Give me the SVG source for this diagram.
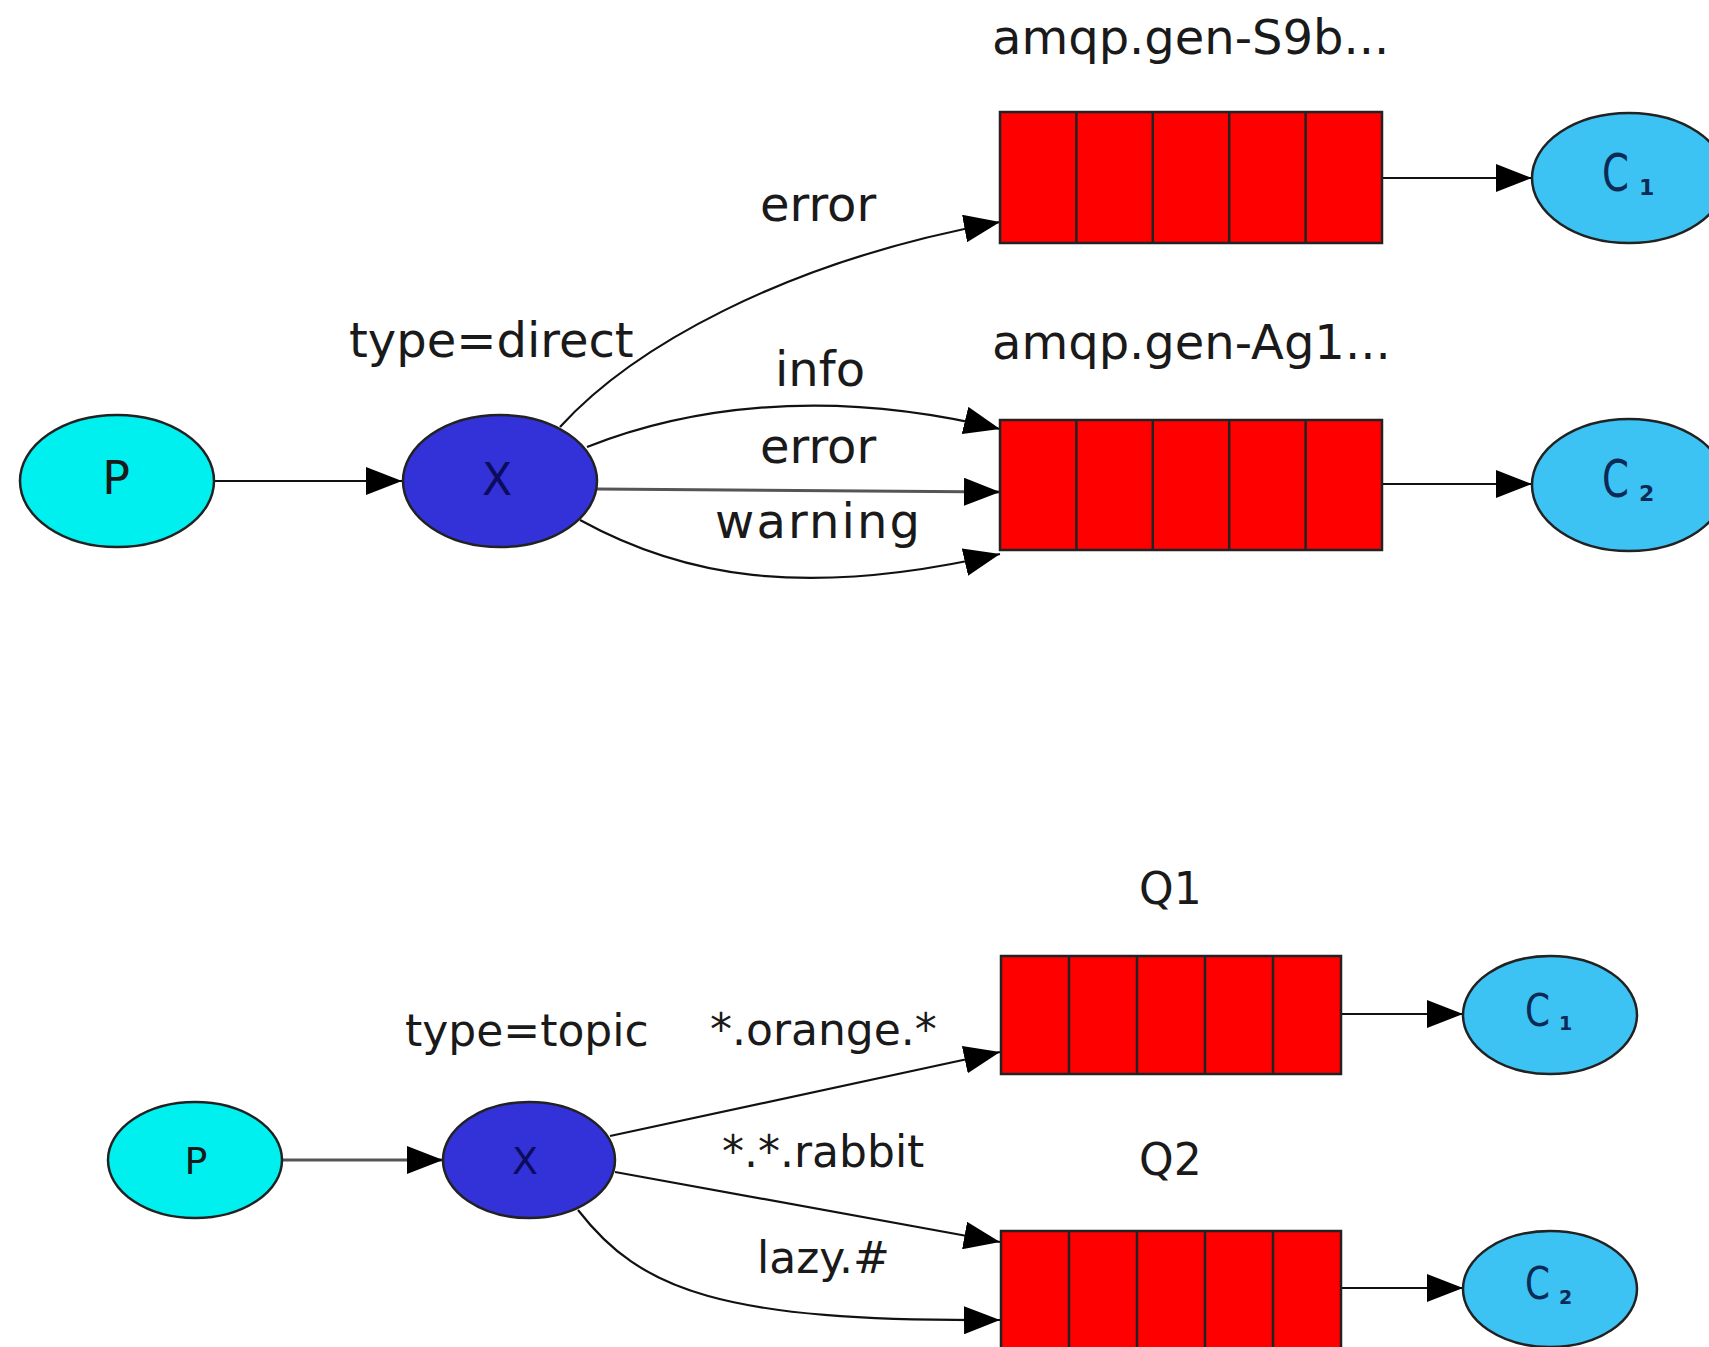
<svg xmlns="http://www.w3.org/2000/svg" width="1709" height="1347" viewBox="0 0 1709 1347">
<style>
  text { font-family: "DejaVu Sans", "Liberation Sans", sans-serif; fill: #1a1a1a; }
  .big { font-size: 48px; }
  .small { font-size: 44px; }
  .prod { fill: #00f0f0; stroke: #222; stroke-width: 2.5; }
  .exch { fill: #3232d8; stroke: #222; stroke-width: 2.5; }
  .cons { fill: #3dc3f3; stroke: #222; stroke-width: 2.5; }
  .q { fill: #f00; stroke: #222; stroke-width: 2.5; }
  .qd { stroke: #222; stroke-width: 2.5; }
  .e { fill: none; stroke: #111; stroke-width: 2.2; marker-end: url(#arr); }
  .e.soft { stroke: #555; stroke-width: 3.2; }
  .nt { text-anchor: middle; }
  .xt { fill: #0c0c5c; }
  .ct { fill: #0b2a55; }
  .sub { font-weight: bold; }
</style>
<defs>
  <marker id="arr" markerUnits="userSpaceOnUse" markerWidth="36" markerHeight="28" refX="36" refY="14" orient="auto" viewBox="0 0 36 28">
    <path d="M0,0 L36,14 L0,28 z" fill="#000"/>
  </marker>
</defs>
<rect width="1709" height="1347" fill="#fff"/>

<!-- connectors -->
<g id="connectors">
  <!-- direct exchange -->
  <path class="e" d="M215 481 L402 481"/>
  <path class="e" d="M560 427 C630 350 780 262 1000 222"/>
  <path class="e" d="M587 447 C680 410 820 385 1000 429"/>
  <path class="e soft" d="M597 489 C700 490 850 491 1000 492"/>
  <path class="e" d="M580 520 C680 575 800 600 1000 554"/>
  <path class="e" d="M1382 178 L1532 178"/>
  <path class="e" d="M1382 484 L1532 484"/>
  <!-- topic exchange -->
  <path class="e soft" d="M282 1160 L443 1160"/>
  <path class="e" d="M610 1136 L1000 1052"/>
  <path class="e" d="M615 1172 L1000 1242"/>
  <path class="e" d="M578 1210 C640 1290 720 1322 1000 1320"/>
  <path class="e" d="M1341 1014 L1463 1014"/>
  <path class="e" d="M1341 1288 L1463 1288"/>

  <text class="big" x="760" y="221">error</text>
  <text class="big" x="775" y="386">info</text>
  <text class="big" x="760" y="463">error</text>
  <text class="big" x="715" y="538" textLength="205" lengthAdjust="spacing">warning</text>
  <text class="small" x="710" y="1045">*.orange.*</text>
  <text class="small" x="722" y="1167">*.*.rabbit</text>
  <text class="small" x="757" y="1273">lazy.#</text>
</g>

<!-- direct exchange scenario -->
<g id="producer-direct">
  <ellipse class="prod" cx="117" cy="481" rx="97" ry="66"/>
  <text class="nt" x="116" y="494" font-size="46">P</text>
</g>
<g id="exchange-direct">
  <ellipse class="exch" cx="500" cy="481" rx="97" ry="66"/>
  <text class="nt xt" x="497" y="495" font-size="44">X</text>
  <text class="big" x="349" y="357">type=direct</text>
</g>
<g id="queue-s9b">
  <rect class="q" x="1000" y="112" width="382" height="131"/>
  <path class="qd" d="M1076.4 112 V243 M1152.8 112 V243 M1229.2 112 V243 M1305.6 112 V243"/>
  <text class="big" x="992" y="54">amqp.gen-S9b...</text>
</g>
<g id="queue-ag1">
  <rect class="q" x="1000" y="420" width="382" height="130"/>
  <path class="qd" d="M1076.4 420 V550 M1152.8 420 V550 M1229.2 420 V550 M1305.6 420 V550"/>
  <text class="big" x="992" y="359">amqp.gen-Ag1...</text>
</g>
<g id="consumer-c1-direct">
  <ellipse class="cons" cx="1629" cy="178" rx="97" ry="65"/>
  <text class="ct" y="191" font-size="52"><tspan x="1602" textLength="27" lengthAdjust="spacingAndGlyphs">C</tspan><tspan class="sub" x="1639" y="195" font-size="22">1</tspan></text>
</g>
<g id="consumer-c2-direct">
  <ellipse class="cons" cx="1629" cy="485" rx="97" ry="66"/>
  <text class="ct" y="497" font-size="52"><tspan x="1602" textLength="27" lengthAdjust="spacingAndGlyphs">C</tspan><tspan class="sub" x="1639" y="501" font-size="22">2</tspan></text>
</g>

<!-- topic exchange scenario -->
<g id="producer-topic">
  <ellipse class="prod" cx="195" cy="1160" rx="87" ry="58"/>
  <text class="nt" x="196" y="1174" font-size="38">P</text>
</g>
<g id="exchange-topic">
  <ellipse class="exch" cx="529" cy="1160" rx="86" ry="58"/>
  <text class="nt xt" x="525" y="1174" font-size="38">X</text>
  <text class="small" x="405" y="1046">type=topic</text>
</g>
<g id="queue-q1">
  <rect class="q" x="1001" y="956" width="340" height="118"/>
  <path class="qd" d="M1069 956 V1074 M1137 956 V1074 M1205 956 V1074 M1273 956 V1074"/>
  <text class="small" x="1139" y="904">Q1</text>
</g>
<g id="queue-q2">
  <rect class="q" x="1001" y="1231" width="340" height="118"/>
  <path class="qd" d="M1069 1231 V1349 M1137 1231 V1349 M1205 1231 V1349 M1273 1231 V1349"/>
  <text class="small" x="1139" y="1175">Q2</text>
</g>
<g id="consumer-c1-topic">
  <ellipse class="cons" cx="1550" cy="1015" rx="87" ry="59"/>
  <text class="ct" y="1026" font-size="44"><tspan x="1525" textLength="25" lengthAdjust="spacingAndGlyphs">C</tspan><tspan class="sub" x="1559" y="1030" font-size="19">1</tspan></text>
</g>
<g id="consumer-c2-topic">
  <ellipse class="cons" cx="1550" cy="1289" rx="87" ry="58"/>
  <text class="ct" y="1299" font-size="44"><tspan x="1525" textLength="25" lengthAdjust="spacingAndGlyphs">C</tspan><tspan class="sub" x="1559" y="1304" font-size="19">2</tspan></text>
</g>
</svg>
